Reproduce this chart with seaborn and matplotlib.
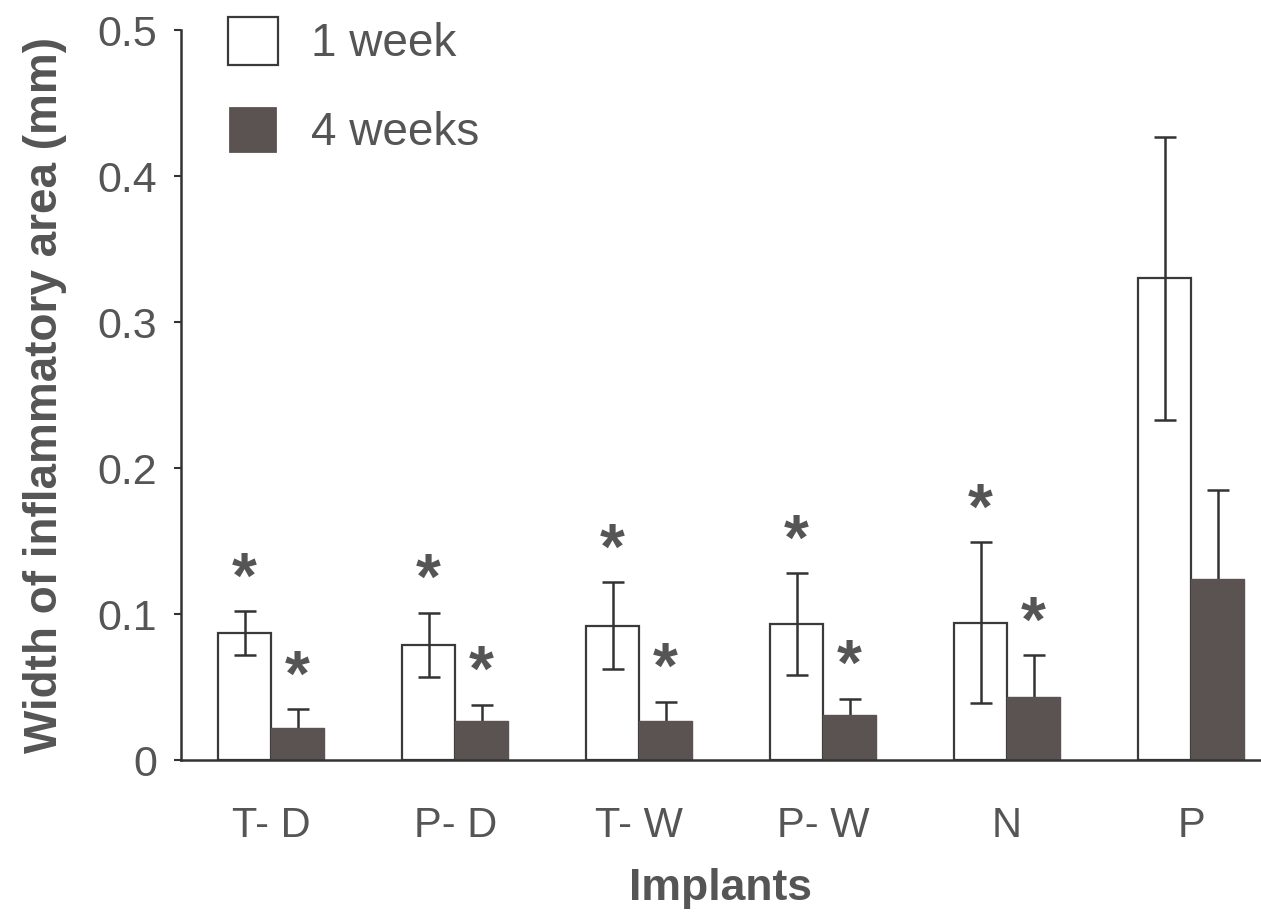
import pandas as pd
import matplotlib
matplotlib.use("Agg")
import matplotlib.pyplot as plt
import seaborn as sns

# datos
implantes = ["T- D", "P- D", "T- W", "P- W", "N", "P"]
semana_1 = [0.087, 0.079, 0.092, 0.093, 0.094, 0.330]
error_1 = [0.015, 0.022, 0.030, 0.035, 0.055, 0.097]
semana_4 = [0.022, 0.027, 0.027, 0.031, 0.043, 0.124]
error_4 = [0.013, 0.011, 0.013, 0.011, 0.029, 0.061]
significativo_1 = [True, True, True, True, True, False]
significativo_4 = [True, True, True, True, True, False]

df = pd.DataFrame({
    "implante": implantes * 2,
    "tiempo": ["1 week"] * 6 + ["4 weeks"] * 6,
    "ancho": semana_1 + semana_4,
})

sns.set_style("white")
plt.rcParams["font.family"] = ["Liberation Sans", "DejaVu Sans"]

gris = "#555555"
oscuro = "#5a5352"

fig = plt.figure(figsize=(12.61, 9.15), dpi=100)
ax = fig.add_axes([181 / 1261, 155 / 915, 1 - 181 / 1261, 730 / 915])

sns.barplot(data=df, x="implante", y="ancho", hue="tiempo",
            palette=["white", oscuro], width=0.576, errorbar=None,
            saturation=1, ax=ax, legend=True)

# bordes de las barras
for p in ax.containers[0]:
    p.set_edgecolor("#3a3a3a")
    p.set_linewidth(1.6)
for p in ax.containers[1]:
    p.set_edgecolor(oscuro)
    p.set_linewidth(1.0)

# barras de error y asteriscos
for cont, errs, sig, z in [(ax.containers[0], error_1, significativo_1, 3),
                           (ax.containers[1], error_4, significativo_4, 0.5)]:
    xs = [p.get_x() + p.get_width() / 2 for p in cont]
    ys = [p.get_height() for p in cont]
    ax.errorbar(xs, ys, yerr=errs, fmt="none", ecolor="#333333",
                elinewidth=1.8, capsize=8, capthick=1.8, zorder=z)
    for x, y, e, s in zip(xs, ys, errs, sig):
        if s:
            ax.annotate("*", (x, y + e), xytext=(0, 22), textcoords="offset points",
                        ha="center", va="center", fontsize=46, fontweight="bold",
                        color=gris)

ax.set_ylim(0, 0.5)
ax.set_xlim(-0.49, 5.38)
ax.set_yticks([0, 0.1, 0.2, 0.3, 0.4, 0.5])
ax.set_yticklabels(["0", "0.1", "0.2", "0.3", "0.4", "0.5"])

sns.despine(ax=ax)
for lado in ["left", "bottom"]:
    ax.spines[lado].set_color("#333333")
    ax.spines[lado].set_linewidth(1.8)

ax.tick_params(axis="y", length=5, width=1.5, color="#333333", pad=12,
               labelsize=31, labelcolor=gris, left=True)
ax.tick_params(axis="x", length=0, pad=33, labelsize=30, labelcolor=gris)

ax.set_xlabel("Implants", fontsize=32, fontweight="bold", color=gris, labelpad=16)
ax.set_ylabel("Width of inflammatory area (mm)", fontsize=33, fontweight="bold",
              color=gris, labelpad=22)

leg = ax.legend(loc="upper left", bbox_to_anchor=(228 / 1261, 1 - 17 / 915),
                bbox_transform=fig.transFigure, frameon=False, fontsize=33,
                handlelength=1.09, handleheight=1.22, handletextpad=0.72,
                labelspacing=0.87, borderpad=0, borderaxespad=0)
for t in leg.get_texts():
    t.set_color(gris)
for h in leg.legend_handles:
    h.set_linewidth(1.6)
leg.legend_handles[0].set_edgecolor("#3a3a3a")

fig.savefig("out.png", dpi=100)
